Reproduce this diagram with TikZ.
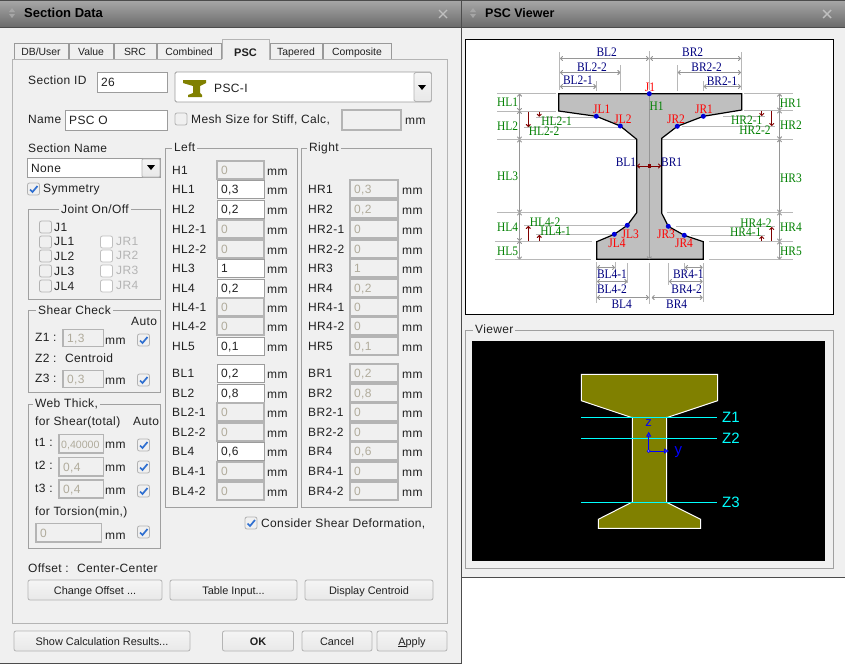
\documentclass[tikz,border=0pt]{standalone}
\usepackage{fontspec}
\usetikzlibrary{arrows.meta}
\setmainfont{Liberation Sans}
\newfontfamily\uifam[LetterSpace=3]{Liberation Sans}
\newfontfamily\tabfam{Liberation Sans}
\newfontfamily\dimfam[FakeStretch=0.88]{Liberation Serif}
\definecolor{bg}{HTML}{F0F0F0}
\definecolor{txt}{HTML}{202020}
\definecolor{off}{HTML}{B0AB9B}
\definecolor{offj}{HTML}{B4B4B4}
\definecolor{grpline}{HTML}{A0A0A0}
\definecolor{boxoff}{HTML}{B4B4B4}
\definecolor{boxon}{HTML}{9C9C9C}
\definecolor{dimg}{HTML}{969696}
\definecolor{extg}{HTML}{B8B8B8}
\definecolor{dimblue}{HTML}{000080}
\definecolor{dimgreen}{HTML}{008000}
\definecolor{dimred}{HTML}{800000}
\definecolor{olive}{HTML}{808000}
\definecolor{cy}{HTML}{00FFFF}
\definecolor{chk}{HTML}{2F6FD0}
\tikzset{
  ui/.style={anchor=west,inner sep=0pt,text height=9pt,text depth=0pt,font=\uifam\fontsize{12}{14}\selectfont,text=txt},
  uig/.style={ui,text=offj},
  tabt/.style={anchor=center,inner sep=0pt,text height=8pt,text depth=0pt,font=\tabfam\fontsize{10.4}{12}\selectfont,text=txt},
  btnt/.style={tabt,font=\tabfam\fontsize{10.9}{12}\selectfont},
  fon/.style={draw=boxon,fill=white,line width=1pt},
  foff/.style={draw=boxoff,fill=bg,line width=1.3pt},
  grp/.style={draw=grpline,line width=1pt},
  grptitle/.style={ui,fill=bg,inner xsep=2pt,text height=9pt,text depth=1pt},
  btn/.style={draw=boxoff,rounded corners=2pt,line width=.8pt,top color=white!96!black,bottom color=black!9},
  dimt/.style={anchor=center,inner sep=0pt,text height=9pt,text depth=0pt,font=\dimfam\fontsize{13}{14}\selectfont},
  dl/.style={dimt,text=dimblue},
  dg/.style={dimt,text=dimgreen},
  dr/.style={dimt,text=red},
  dim/.style={draw=dimg,line width=1pt,{To[length=3pt,width=5pt]}-{To[length=3pt,width=5pt]}},
  ext/.style={draw=extg,line width=1pt},
  rarr/.style={draw=dimred,line width=1pt,-{To[length=3pt,width=5pt]}},
  joint/.style={circle,fill=blue!85!black,inner sep=0pt,minimum size=5pt},
  cyl/.style={draw=cy,line width=1pt},
  zt/.style={anchor=west,inner sep=0pt,text=cy,text height=10pt,text depth=0pt,font=\tabfam\fontsize{15}{15}\selectfont},
  win/.style={top color=black!35,bottom color=black!58},
  ttl/.style={anchor=west,inner sep=0pt,font=\bfseries\fontsize{13}{14}\selectfont,text=black},
}
\newcommand\lbl[3]{\node[ui] at (#1,#2) {#3};}
\newcommand\lblg[3]{\node[uig] at (#1,#2) {#3};}
\newcommand\fldon[5]{\draw[fon] (#1,#2) rectangle (#3,#4); \node[ui] at (#1+4,{(#2+#4)/2}) {#5};}
\newcommand\fldoff[5]{\draw[foff] (#1,#2) rectangle (#3,#4); \node[ui,text=off] at (#1+4,{(#2+#4)/2}) {#5};}
\newcommand\chkb[3]{%
  \draw[draw=black!30,fill=black!6,rounded corners=2pt,line width=.8pt] (#1-6,#2-6) rectangle (#1+6,#2+6);
  \ifnum#3=1 \draw[chk,line width=1.7pt] (#1-3.5,#2+0.5) -- (#1-1,#2+3) -- (#1+4,#2-3);\fi}
\newcommand\chkw[2]{\draw[draw=black!25,fill=white,rounded corners=2pt,line width=.8pt] (#1-6,#2-6) rectangle (#1+6,#2+6);}
\newcommand\grpbox[7]{\draw[grp] (#1,#2) rectangle (#3,#4); \node[grptitle] at (#5,#6) {#7};}
\newcommand\rowL[4]{\lbl{172}{#1}{#2}\ifnum#4=1 \fldon{217}{#1-9}{264}{#1+9}{#3}\else \fldoff{217}{#1-9}{264}{#1+9}{#3}\fi \lbl{267}{#1+1}{mm}}
\newcommand\rowR[3]{\lbl{308}{#1}{#2}\fldoff{350}{#1-9}{398}{#1+9}{#3}\lbl{402}{#1+1}{mm}}
\newcommand\tabb[3]{\draw[draw=black!40,fill=bg,line width=.8pt] (#1,59) -- (#1,43) -- (#2,43) -- (#2,59); \node[tabt] at ({(#1+#2)/2},51) {#3};}
\newcommand\btnn[5]{\draw[btn] (#1,#2) rectangle (#3,#4); \node[btnt] at ({(#1+#3)/2},{(#2+#4)/2}) {#5};}
\newcommand\grip[2]{\fill[black!35] (#1-3,#2-1) -- (#1,#2-5) -- (#1+3,#2-1) -- cycle; \fill[black!35] (#1-3,#2+1) -- (#1,#2+5) -- (#1+3,#2+1) -- cycle;}
\newcommand\closex[2]{\draw[black!25,line width=1.4pt] (#1-4,#2-4) -- (#1+4,#2+4) (#1-4,#2+4) -- (#1+4,#2-4);}
\begin{document}
\begin{tikzpicture}[x=1pt,y=-1pt]
\useasboundingbox (0,0) rectangle (845,664);
\fill[white] (0,0) rectangle (845,664);
% left window
\fill[bg] (0,0) rectangle (461,664);
\shade[win] (0,1) rectangle (461,27);
\draw[black!70,line width=1pt] (0,.5) -- (461,.5) (0,27.5) -- (461,27.5);
\draw[black!70,line width=1pt] (461.5,0) -- (461.5,664) (0,663.5) -- (461,663.5);
\grip{12}{13}
\node[ttl] at (24,13) {Section Data};
\closex{443}{14}
% right window
\fill[bg] (462,0) rectangle (845,577);
\shade[win] (462,1) rectangle (845,27);
\draw[black!70,line width=1pt] (462,.5) -- (845,.5) (462,27.5) -- (845,27.5) (462,577.5) -- (845,577.5);
\grip{473}{13}
\node[ttl,font=\bfseries\fontsize{12.5}{14}\selectfont] at (485,13) {PSC Viewer};
\closex{827}{14}
% tabs
\draw[draw=boxoff,fill=bg,line width=1pt] (12.5,59) rectangle (447.5,623.5);
\tabb{14}{68}{DB/User}
\tabb{69}{113}{Value}
\tabb{114}{156}{SRC}
\tabb{157}{221}{Combined}
\tabb{270}{322}{Tapered}
\tabb{323}{391}{Composite}
\fill[bg] (222,40) rectangle (269,60);
\draw[draw=boxoff,line width=.8pt] (222,59) -- (222,39.5) -- (269,39.5) -- (269,59);
\node[tabt,font=\tabfam\bfseries\fontsize{11}{12}\selectfont] at (245.5,52) {PSC};
% header fields
\lbl{28}{80}{Section ID}
\fldon{97}{72}{167}{92}{26}
\draw[draw=boxon,fill=white,line width=.8pt,rounded corners=1.5pt] (175,72) rectangle (431.5,102);
\draw[btn,rounded corners=1.5pt] (414,72.5) rectangle (431.5,101.5);
\fill[black] (418,85) -- (426,85) -- (422,90) -- cycle;
\fill[olive] (183,80) -- (206,80) -- (206,83) -- (200,86) -- (200,93) -- (202,95) -- (202,97) -- (188,97) -- (188,95) -- (193,93) -- (193,86) -- (183,83) -- cycle;
\lbl{214}{88}{PSC-I}
\lbl{28}{119}{Name}
\fldon{65}{110}{167}{130}{PSC O}
\chkb{181}{119}{0}
\lbl{191}{119}{Mesh Size for Stiff, Calc,}
\fldoff{342}{110}{401}{130}{}
\lbl{405}{120}{mm}
\lbl{28}{148}{Section Name}
\draw[draw=boxon,fill=white,line width=.8pt] (27,158) rectangle (160,177);
\node[ui] at (31,167.5) {None};
\draw[btn,rounded corners=1pt] (142,159) rectangle (160,177);
\fill[black] (147,165) -- (155,165) -- (151,170) -- cycle;
\chkb{33.5}{189}{1}
\lbl{43}{188}{Symmetry}
% joint group
\grpbox{28.5}{209.5}{160}{299.5}{59}{209}{Joint On/Off}
\chkb{45.5}{227}{0}\lbl{54}{227}{J1}
\chkb{45.5}{242}{0}\lbl{54}{241}{JL1}
\chkb{45.5}{256}{0}\lbl{54}{256}{JL2}
\chkb{45.5}{271}{0}\lbl{54}{271}{JL3}
\chkb{45.5}{286}{0}\lbl{54}{286}{JL4}
\chkw{106.5}{242}\lblg{116}{241}{JR1}
\chkw{106.5}{256}\lblg{116}{255}{JR2}
\chkw{106.5}{271}\lblg{116}{270}{JR3}
\chkw{106.5}{286}\lblg{116}{285}{JR4}
% shear check
\grpbox{28.5}{310.5}{160}{392.5}{36}{310}{Shear Check}
\lbl{131}{321}{Auto}
\lbl{35}{337}{Z1 :}
\fldoff{63}{329.5}{103.5}{346.5}{1,3}
\lbl{105}{340}{mm}
\chkb{143.5}{340}{1}
\lbl{35}{358}{Z2 :}
\lbl{65}{358}{Centroid}
\lbl{35}{378}{Z3 :}
\fldoff{63}{370.5}{103.5}{387.5}{0,3}
\lbl{105}{380}{mm}
\chkb{143.5}{380}{1}
% web thick
\grpbox{28.5}{404.5}{160}{548.5}{33}{403}{Web Thick,}
\lbl{35}{421}{for Shear(total)}
\lbl{133}{421}{Auto}
\lbl{35}{442}{t1 :}
\draw[foff] (59,434.5) rectangle (103.5,453); \node[ui,text=off,font=\tabfam\fontsize{10.6}{12}\selectfont] at (61,443.5) {0,40000};
\lbl{105}{444}{mm}
\chkb{143.5}{445}{1}
\lbl{35}{465}{t2 :}
\fldoff{59}{457.5}{103.5}{476}{0,4}
\lbl{105}{467}{mm}
\chkb{143.5}{467}{1}
\lbl{35}{488}{t3 :}
\fldoff{59}{480}{103.5}{498}{0,4}
\lbl{105}{490}{mm}
\chkb{143.5}{491}{1}
\lbl{35}{511}{for Torsion(min,)}
\fldoff{36}{523.5}{101.5}{542}{0}
\lbl{105}{535}{mm}
\chkb{143.5}{532}{1}
\lbl{28}{568}{Offset :}
\lbl{77}{568}{Center-Center}
% left / right groups
\grpbox{165.5}{148.5}{297}{507}{172}{147}{Left}
\grpbox{301.5}{148.5}{431.5}{507}{307}{147}{Right}
\rowL{170}{H1}{0}{0}
\rowL{189}{HL1}{0,3}{1}
\rowL{209}{HL2}{0,2}{1}
\rowL{229}{HL2-1}{0}{0}
\rowL{249}{HL2-2}{0}{0}
\rowL{268}{HL3}{1}{1}
\rowL{288}{HL4}{0,2}{1}
\rowL{307}{HL4-1}{0}{0}
\rowL{326}{HL4-2}{0}{0}
\rowL{346}{HL5}{0,1}{1}
\rowL{373}{BL1}{0,2}{1}
\rowL{393}{BL2}{0,8}{1}
\rowL{412}{BL2-1}{0}{0}
\rowL{432}{BL2-2}{0}{0}
\rowL{451}{BL4}{0,6}{1}
\rowL{471}{BL4-1}{0}{0}
\rowL{491}{BL4-2}{0}{0}
\rowR{189}{HR1}{0,3}
\rowR{209}{HR2}{0,2}
\rowR{229}{HR2-1}{0}
\rowR{249}{HR2-2}{0}
\rowR{268}{HR3}{1}
\rowR{288}{HR4}{0,2}
\rowR{307}{HR4-1}{0}
\rowR{326}{HR4-2}{0}
\rowR{346}{HR5}{0,1}
\rowR{373}{BR1}{0,2}
\rowR{393}{BR2}{0,8}
\rowR{412}{BR2-1}{0}
\rowR{432}{BR2-2}{0}
\rowR{451}{BR4}{0,6}
\rowR{471}{BR4-1}{0}
\rowR{491}{BR4-2}{0}
\chkb{251}{523}{1}
\lbl{261}{523}{Consider Shear Deformation,}
% buttons
\btnn{28}{580}{162}{600}{Change Offset ...}
\btnn{170}{580}{297}{600}{Table Input...}
\btnn{305}{580}{433}{600}{Display Centroid}
\btnn{14}{631}{190}{651}{Show Calculation Results...}
\btnn{222.5}{631}{293.5}{651}{\textbf{OK}}
\btnn{302}{631}{372}{651}{Cancel}
\btnn{377}{631}{447}{651}{\underline{A}pply}
% PSC viewer panel
\draw[draw=black,fill=white,line width=1pt] (465.5,39.5) rectangle (833.5,314.5);
% extension lines
\draw[ext] (497,93.7) -- (556,93.7) (497,111) -- (556,111) (536,117) -- (595,117) (524,127) -- (620,127) (497,139.5) -- (636,139.5)
 (497,212.5) -- (630,212.5) (524,225.5) -- (625,225.5) (536,234.5) -- (612,234.5) (495,241) -- (592,241) (495,259.5) -- (591,259.5)
 (744,93.7) -- (792.7,93.7) (744,110.5) -- (792.7,110.5) (723,116.3) -- (765,116.3) (681.7,126) -- (775,126) (661.7,139.3) -- (792.7,139.3)
 (666.7,212.5) -- (792.7,212.5) (676,226) -- (775,226) (690.7,235) -- (765,235) (709,241.5) -- (792.7,241.5) (709,259.5) -- (792.7,259.5)
 (559.7,52) -- (559.7,90) (620.3,65) -- (620.3,91) (596.3,81) -- (596.3,91) (649.3,51) -- (649.3,90)
 (741.3,52) -- (741.3,90) (677.7,65) -- (677.7,91) (703.7,81) -- (703.7,91)
 (596.7,262) -- (596.7,303) (615,262) -- (615,272) (627.3,263) -- (627.3,283) (649.3,263) -- (649.3,304)
 (703.3,263) -- (703.3,302) (684.7,263) -- (684.7,272) (668.3,263) -- (668.3,285);
% beam
\draw[draw=black,fill=black!25,line width=1.2pt]
 (558.7,93.7) -- (741.7,93.7) -- (741.7,110) -- (703.3,116.3) -- (677.3,126.3) -- (661.7,138.3) -- (661.7,213.3) -- (668.3,226.3) -- (684.3,235.3) -- (703.3,241.7) -- (703.3,259.3) -- (596.7,259.3) -- (596.7,241.7) -- (614.3,234.3) -- (627.3,225.3) -- (636.7,212.7) -- (636.7,139.3) -- (620.3,126) -- (596.3,116.3) -- (558.7,111) -- cycle;
\draw[dimg,line width=1pt,-{To[length=3pt,width=5pt]}] (649.3,93.7) -- (649.3,259.3);
% dimension lines
\draw[dim] (560,58.5) -- (649,58.5);
\draw[dim] (560,72.5) -- (620.3,72.5);
\draw[dim] (560,86.5) -- (596.3,86.5);
\draw[dim] (650,58.5) -- (741,58.5);
\draw[dim] (677.7,72.5) -- (741,72.5);
\draw[dim] (703.7,86.5) -- (741,86.5);
\draw[dim] (519.5,93.7) -- (519.5,111);
\draw[dim] (519.5,111) -- (519.5,139.5);
\draw[dim] (519.5,139.5) -- (519.5,212.5);
\draw[dim] (519.5,212.5) -- (519.5,241);
\draw[dim] (519.5,241) -- (519.5,259.5);
\draw[dim] (779.5,93.7) -- (779.5,110.5);
\draw[dim] (779.5,110.5) -- (779.5,139.3);
\draw[dim] (779.5,139.3) -- (779.5,212.5);
\draw[dim] (779.5,212.5) -- (779.5,241.5);
\draw[dim] (779.5,241.5) -- (779.5,259.5);
\draw[dim] (597,267.5) -- (615,267.5);
\draw[dim] (597,281.5) -- (627.3,281.5);
\draw[dim] (597,297.5) -- (649,297.5);
\draw[dim] (685,267.5) -- (702.7,267.5);
\draw[dim] (669,281.5) -- (702.7,281.5);
\draw[dim] (651.7,297.5) -- (702.7,297.5);
% dark red arrows
\draw[rarr] (539.3,112) -- (539.3,116.7);
\draw[rarr] (528.3,112) -- (528.3,127);
\draw[rarr] (528.3,241) -- (528.3,226);
\draw[rarr] (539.3,241) -- (539.3,235);
\draw[rarr] (761.7,111) -- (761.7,116);
\draw[rarr] (771.7,111) -- (771.7,126);
\draw[rarr] (771.7,241) -- (771.7,227);
\draw[rarr] (761.7,241) -- (761.7,236);
\draw[draw=dimred,line width=1pt,{To[length=3pt,width=5pt]}-{To[length=3pt,width=5pt]}] (637,166) -- (661,166);
\fill[dimred] (647.5,164.2) rectangle (651,167.8);
% joints
\foreach \jx/\jy in {649.3/93.7,596.3/116.3,620.3/126,703.3/116.3,677.3/126.3,627.3/225.3,614.3/234.3,668.3/226.3,684.3/235.3}
  \node[joint] at (\jx,\jy) {};
% labels
\node[dl] at (606.7,52) {BL2};
\node[dl] at (592,67) {BL2-2};
\node[dl] at (578,80) {BL2-1};
\node[dl] at (692.7,52) {BR2};
\node[dl] at (706.7,67) {BR2-2};
\node[dl] at (722,81) {BR2-1};
\node[dl] at (626,162) {BL1};
\node[dl] at (671.7,162) {BR1};
\node[dl] at (612,274) {BL4-1};
\node[dl] at (612,289) {BL4-2};
\node[dl] at (621.7,304) {BL4};
\node[dl] at (688.3,274) {BR4-1};
\node[dl] at (686.7,289) {BR4-2};
\node[dl] at (676.7,304) {BR4};
\node[dg] at (507.7,102) {HL1};
\node[dg] at (507.7,126) {HL2};
\node[dg] at (556.7,121) {HL2-1};
\node[dg] at (544,131) {HL2-2};
\node[dg] at (507.7,176) {HL3};
\node[dg] at (507.7,227) {HL4};
\node[dg] at (545,222) {HL4-2};
\node[dg] at (555.7,231) {HL4-1};
\node[dg] at (507.7,251) {HL5};
\node[dg] at (656.7,106) {H1};
\node[dg] at (790.7,103) {HR1};
\node[dg] at (791,125) {HR2};
\node[dg] at (791,178) {HR3};
\node[dg] at (791,227) {HR4};
\node[dg] at (791,251) {HR5};
\node[dg] at (746.7,120) {HR2-1};
\node[dg] at (755,130) {HR2-2};
\node[dg] at (756,223) {HR4-2};
\node[dg] at (745.7,232) {HR4-1};
\node[dr] at (650,87) {J1};
\node[dr] at (601.7,109) {JL1};
\node[dr] at (623,119) {JL2};
\node[dr] at (704,109) {JR1};
\node[dr] at (676,119) {JR2};
\node[dr] at (630.3,234) {JL3};
\node[dr] at (617,243) {JL4};
\node[dr] at (666,234) {JR3};
\node[dr] at (684,243) {JR4};
% viewer
\grpbox{465.5}{330.5}{833}{568}{473}{329}{Viewer}
\fill[black] (472,341) rectangle (825,561);
\draw[draw=white,fill=olive,line width=1pt]
 (581.3,374.3) -- (717.7,374.3) -- (717.7,400.7) -- (667.7,417.3) -- (666.7,417.3) -- (666.7,502.3) -- (700.7,519.3) -- (700.7,528.3) -- (598.3,528.3) -- (598.3,519.3) -- (631.7,502.3) -- (632.3,502.3) -- (632.3,417.3) -- (631,417.3) -- (581.3,400.7) -- cycle;
\draw[cyl] (581,417.3) -- (717,417.3);
\draw[cyl] (581,438.3) -- (717,438.3);
\draw[cyl] (581,502.3) -- (717,502.3);
\node[zt] at (722,417) {Z1};
\node[zt] at (722,438) {Z2};
\node[zt] at (722,502) {Z3};
\draw[blue,line width=1pt,-{Triangle[open,length=5pt,width=5pt]}] (648.7,451) -- (648.7,431.7);
\draw[blue,line width=1pt,-{Triangle[open,length=5pt,width=5pt]}] (648.7,451) -- (669,451);
\draw[draw=blue,fill=white,line width=.8pt] (648.7,451) circle (1.4);
\node[anchor=center,inner sep=0pt,text=blue,font=\tabfam\fontsize{13}{14}\selectfont] at (648.7,423.5) {z};
\node[anchor=center,inner sep=0pt,text=blue,font=\tabfam\fontsize{15}{15}\selectfont] at (678.3,452) {y};
\end{tikzpicture}
\end{document}
